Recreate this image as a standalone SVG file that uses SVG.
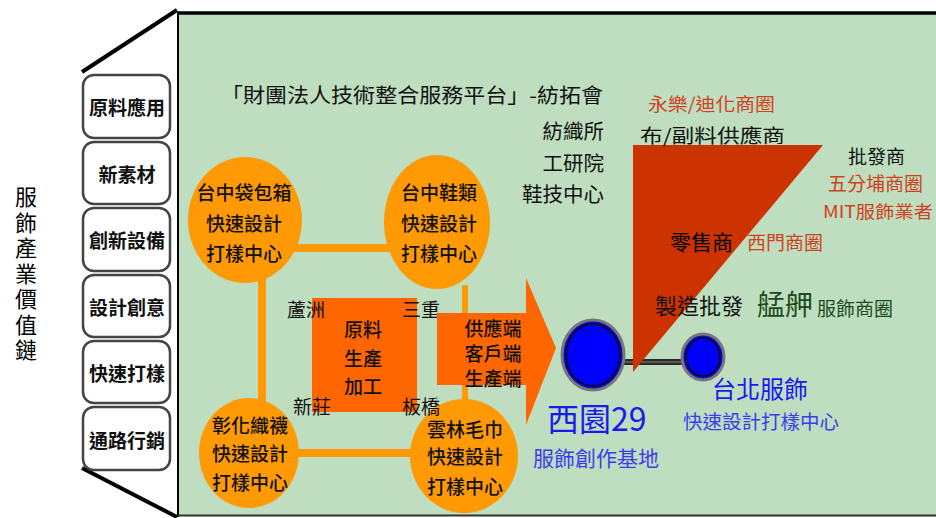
<svg xmlns="http://www.w3.org/2000/svg" width="936" height="518" viewBox="0 0 936 518">
<defs>
<style>
text{font-family:"Noto Sans CJK TC","Noto Sans CJK SC",sans-serif;dominant-baseline:central}
.c{text-anchor:middle}
.r{text-anchor:end}
.blk{fill:#111}
.red{fill:#D2401E}
.blue{fill:#1A1AF0}
.lbl{font-size:19px;font-weight:bold;fill:#111;text-anchor:middle}
.box{fill:#fff;stroke:#444;stroke-width:2.5}
.orb{fill:#FF9A05}
.ctr{font-size:19px;fill:#111;text-anchor:middle;font-weight:500}
.olink{stroke:#FF9A05;stroke-width:8;fill:none}
</style>
<linearGradient id="bg" x1="0" y1="0" x2="0" y2="1">
<stop offset="0" stop-color="#fff"/>
<stop offset="0.8" stop-color="#fff"/>
<stop offset="1" stop-color="#c8c8c8"/>
</linearGradient>
</defs>

<!-- panel -->
<rect x="178" y="13" width="760" height="502" fill="#BEDEBF"/>
<line x1="177" y1="13" x2="936" y2="13" stroke="#000" stroke-width="3.5"/>
<line x1="178" y1="12" x2="178" y2="517" stroke="#000" stroke-width="2"/>
<line x1="178" y1="515.5" x2="936" y2="515.5" stroke="#333" stroke-width="2"/>
<line x1="82" y1="72" x2="177" y2="10" stroke="#000" stroke-width="4"/>
<line x1="82" y1="468" x2="177" y2="517" stroke="#000" stroke-width="4"/>

<!-- vertical title -->
<g id="chain-title">
<text x="26" y="186" font-size="22" fill="#000" style="writing-mode:vertical-rl;letter-spacing:3.5px">服飾產業價值鏈</text>
</g>

<!-- value chain boxes -->
<g id="box-1"><rect class="box" x="83" y="75" width="87" height="63" rx="11" fill="url(#bg)"/><text class="lbl" x="127" y="106">原料應用</text></g>
<g id="box-2"><rect class="box" x="83" y="142" width="87" height="62" rx="11" fill="url(#bg)"/><text class="lbl" x="127" y="173">新素材</text></g>
<g id="box-3"><rect class="box" x="83" y="208" width="87" height="63" rx="11" fill="url(#bg)"/><text class="lbl" x="127" y="239">創新設備</text></g>
<g id="box-4"><rect class="box" x="83" y="275" width="87" height="62" rx="11" fill="url(#bg)"/><text class="lbl" x="127" y="306">設計創意</text></g>
<g id="box-5"><rect class="box" x="83" y="341" width="87" height="62" rx="11" fill="url(#bg)"/><text class="lbl" x="127" y="372">快速打樣</text></g>
<g id="box-6"><rect class="box" x="83" y="407" width="87" height="63" rx="11" fill="url(#bg)"/><text class="lbl" x="127" y="439">通路行銷</text></g>

<!-- header text -->
<g id="platform" font-size="20.5" fill="#111">
<text x="221" y="94" textLength="382" lengthAdjust="spacingAndGlyphs">「財團法人技術整合服務平台」-紡拓會</text>
<text class="r" x="604" y="130">紡織所</text>
<text class="r" x="604" y="162">工研院</text>
<text class="r" x="604" y="193">鞋技中心</text>
</g>

<!-- connectors -->
<g id="connectors">
<line class="olink" x1="290" y1="248" x2="395" y2="248"/>
<line class="olink" x1="290" y1="453" x2="420" y2="453"/>
<line class="olink" x1="262" y1="278" x2="262" y2="405"/>
<line x1="465" y1="285" x2="465" y2="405" stroke="#FF9A05" stroke-width="6"/>
<line x1="620" y1="362" x2="688" y2="362" stroke="#2a2a2a" stroke-width="6"/>
<line x1="620" y1="362" x2="688" y2="362" stroke="#6a6a6a" stroke-width="1.5"/>
</g>

<!-- centers -->
<g id="taichung-bag"><ellipse class="orb" cx="245" cy="220" rx="57" ry="63"/>
<text class="ctr" x="244" y="191">台中袋包箱</text><text class="ctr" x="244" y="222">快速設計</text><text class="ctr" x="244" y="252">打樣中心</text></g>
<g id="taichung-shoe"><ellipse class="orb" cx="437" cy="222" rx="53" ry="67"/>
<text class="ctr" x="439" y="191">台中鞋類</text><text class="ctr" x="439" y="222">快速設計</text><text class="ctr" x="439" y="252">打樣中心</text></g>
<g id="changhua"><ellipse class="orb" cx="249" cy="453" rx="50" ry="55"/>
<text class="ctr" x="250" y="424">彰化織襪</text><text class="ctr" x="250" y="452">快速設計</text><text class="ctr" x="250" y="481">打樣中心</text></g>
<g id="yunlin"><ellipse class="orb" cx="464" cy="456" rx="54" ry="57"/>
<text class="ctr" x="465" y="428">雲林毛巾</text><text class="ctr" x="465" y="455">快速設計</text><text class="ctr" x="465" y="485">打樣中心</text></g>

<!-- raw material square -->
<g id="raw-material"><rect x="312" y="298" width="105" height="114" fill="#FF6600"/>
<text class="ctr" x="363" y="328" font-size="20">原料</text><text class="ctr" x="363" y="357" font-size="20">生產</text><text class="ctr" x="363" y="385" font-size="20">加工</text></g>

<g id="places" font-size="19" fill="#111">
<text x="287" y="308">蘆洲</text>
<text x="402" y="308">三重</text>
<text x="293" y="405">新莊</text>
<text x="402" y="405">板橋</text>
</g>

<!-- arrow -->
<g id="supply-arrow"><polygon points="437,313 526,313 526,278 556,348 526,425 526,385 437,385" fill="#FF6600"/>
<text class="ctr" x="493" y="327" font-size="18.5">供應端</text><text class="ctr" x="493" y="352" font-size="18.5">客戶端</text><text class="ctr" x="493" y="377" font-size="18.5">生產端</text></g>

<!-- market trapezoid -->
<g id="market"><polygon points="633,145 823,145 633,372" fill="#CC3300"/>
<text x="648" y="103" font-size="18" class="red" textLength="127" lengthAdjust="spacingAndGlyphs">永樂/迪化商圈</text>
<text x="640" y="134" font-size="19" class="blk" textLength="145" lengthAdjust="spacingAndGlyphs">布/副料供應商</text>
<text x="848" y="155" font-size="19" class="blk">批發商</text>
<text x="828" y="182" font-size="19" class="red">五分埔商圈</text>
<text x="823" y="210" font-size="17.5" class="red" textLength="110" lengthAdjust="spacingAndGlyphs">MIT服飾業者</text>
<text x="670" y="241" font-size="21" fill="#000">零售商</text>
<text x="747" y="241" font-size="19" class="red">西門商圈</text>
<text x="655" y="304" font-size="22" fill="#111">製造批發</text>
<text x="757" y="303" font-size="28" fill="#1C4A1C">艋舺</text>
<text x="817" y="307" font-size="19" fill="#1C4A1C">服飾商圈</text>
</g>

<!-- Ximen 29 -->
<g id="ximen29"><ellipse cx="593" cy="355" rx="31" ry="35" fill="#0000FF" stroke="#777" stroke-width="3"/>
<ellipse cx="593" cy="355" rx="27" ry="31" fill="#0000FF" stroke="#111" stroke-width="2"/>
<text x="547" y="417" font-size="32" class="blue">西園29</text>
<text x="533" y="457" font-size="21" fill="#3C3CF0">服飾創作基地</text></g>

<!-- Taipei -->
<g id="taipei"><ellipse cx="703" cy="357" rx="21" ry="23" fill="#0000FF" stroke="#777" stroke-width="3"/>
<ellipse cx="703" cy="357" rx="17" ry="19" fill="#0000FF" stroke="#111" stroke-width="2"/>
<text x="712" y="387" font-size="24" class="blue">台北服飾</text>
<text x="683" y="420" font-size="19.5" fill="#3C3CF0">快速設計打樣中心</text></g>
</svg>
